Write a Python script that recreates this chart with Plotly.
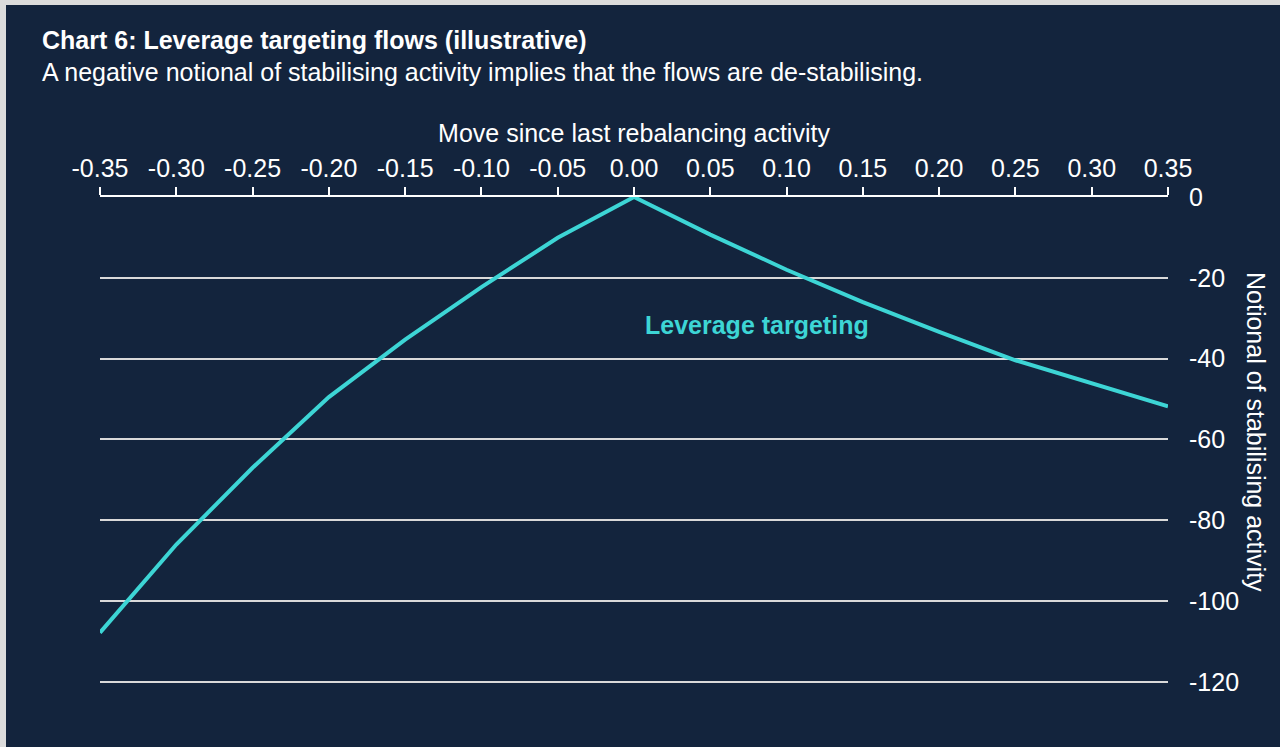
import plotly.graph_objects as go

# Move since last rebalancing (x) and notional of stabilising activity (y)
moves = [-0.35, -0.30, -0.25, -0.20, -0.15, -0.10, -0.05, 0.00,
         0.05, 0.10, 0.15, 0.20, 0.25, 0.30, 0.35]
notional = [-107.8, -86.0, -67.0, -49.5, -35.3, -22.3, -10.1, 0.0,
            -9.3, -18.0, -26.0, -33.4, -40.4, -46.2, -51.8]

x_ticks = [-0.35, -0.30, -0.25, -0.20, -0.15, -0.10, -0.05, 0.00,
           0.05, 0.10, 0.15, 0.20, 0.25, 0.30, 0.35]
x_tick_labels = ["-0.35", "-0.30", "-0.25", "-0.20", "-0.15", "-0.10", "-0.05", "0.00",
                 "0.05", "0.10", "0.15", "0.20", "0.25", "0.30", "0.35"]
y_ticks = [0, -20, -40, -60, -80, -100, -120]
y_tick_labels = ["0", "-20", "-40", "-60", "-80", "-100", "-120"]

W, H = 1280, 747
ML, MR, MT, MB = 100, 112, 197, 61
PW, PH = W - ML - MR, H - MT - MB

BG = "#13243d"
EDGE = "#dcdcdc"
TEAL = "#3dd5d5"
FONT = "Liberation Sans, Arial, sans-serif"
FS = 25


def xp(px):
    return (px - ML) / PW


def yp(py):
    return (H - MB - py) / PH


fig = go.Figure()
fig.add_trace(go.Scatter(
    x=moves, y=notional, mode="lines",
    line=dict(color=TEAL, width=4),
    hoverinfo="skip", showlegend=False,
))

annotations = [
    dict(text="<b>Chart 6: Leverage targeting flows (illustrative)</b>",
         x=xp(40), y=yp(40), xanchor="left", yanchor="middle",
         font=dict(size=FS, color="white", family=FONT)),
    dict(text="A negative notional of stabilising activity implies that the flows are de-stabilising.",
         x=xp(40), y=yp(72), xanchor="left", yanchor="middle",
         font=dict(size=FS, color="white", family=FONT)),
    dict(text="<b>Leverage targeting</b>",
         x=xp(757), y=yp(325), xanchor="center", yanchor="middle",
         font=dict(size=FS, color=TEAL, family=FONT)),
    dict(text="Notional of stabilising activity",
         x=xp(1256), y=yp(432), xanchor="center", yanchor="middle",
         textangle=90,
         font=dict(size=FS, color="white", family=FONT)),
]
for a in annotations:
    a.update(xref="paper", yref="paper", showarrow=False)

shapes = [
    dict(type="rect", xref="paper", yref="paper", x0=xp(0), x1=xp(6),
         y0=yp(H), y1=yp(0), fillcolor=EDGE, line=dict(width=0)),
    dict(type="rect", xref="paper", yref="paper", x0=xp(0), x1=xp(W),
         y0=yp(5), y1=yp(0), fillcolor=EDGE, line=dict(width=0)),
]

fig.update_layout(
    width=W, height=H, autosize=False,
    margin=dict(l=ML, r=MR, t=MT, b=MB, pad=0),
    paper_bgcolor=BG, plot_bgcolor=BG,
    font=dict(family=FONT, color="white", size=FS),
    annotations=annotations, shapes=shapes,
    xaxis=dict(
        side="top", range=[-0.35, 0.35],
        tickvals=x_ticks, ticktext=x_tick_labels,
        ticks="outside", ticklen=8, tickwidth=2, tickcolor="white",
        showline=True, linecolor="white", linewidth=2,
        showgrid=False, zeroline=False,
        tickfont=dict(size=FS, color="white"),
        title=dict(text="Move since last rebalancing activity",
                   font=dict(size=FS, color="white"), standoff=4),
    ),
    yaxis=dict(
        side="right", range=[-121, 0],
        tickvals=y_ticks, ticktext=y_tick_labels,
        ticks="", showline=False, zeroline=False,
        showgrid=True, gridcolor="#d9d9d9", gridwidth=2,
        tickfont=dict(size=FS, color="white"),
        ticklabelstandoff=20,
    ),
)

fig.write_html("out.html")
